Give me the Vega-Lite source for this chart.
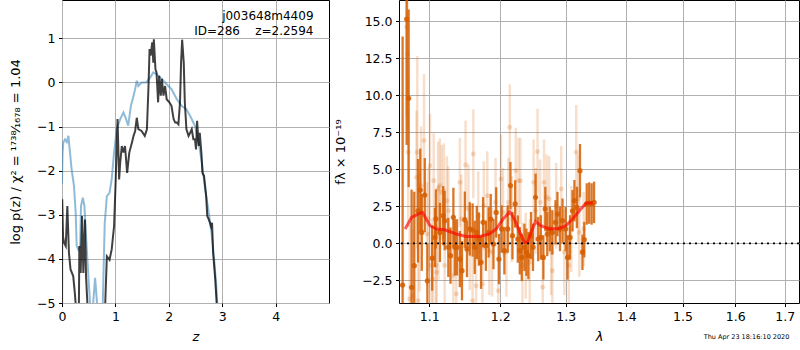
{
  "$schema": "https://vega.github.io/schema/vega-lite/v6.json",
  "padding": {"left": 9, "top": -2, "right": 0, "bottom": 0},
  "background": "white",
  "spacing": 70,
  "bounds": "flush",
  "title": {"text": "Thu Apr 23 18:16:10 2020", "orient": "bottom", "anchor": "end", "fontSize": 6.5, "fontWeight": "normal", "offset": -10, "dx": -11, "color": "black"},
  "datasets": {
    "pz_blue": [
      {"z":0,"v":-2.3},{"z":0.01,"v":-1.6},{"z":0.025,"v":-1.36},{"z":0.056,"v":-1.29},{"z":0.09,"v":-1.35},{"z":0.12,"v":-1.21},{"z":0.15,"v":-1.59},{"z":0.18,"v":-1.97},{"z":0.225,"v":-2.35},{"z":0.256,"v":-2.95},{"z":0.275,"v":-3.71},{"z":0.306,"v":-3.79},{"z":0.34,"v":-3.71},{"z":0.356,"v":-2.8},{"z":0.39,"v":-2.61},{"z":0.42,"v":-2.8},{"z":0.45,"v":-3.48},{"z":0.49,"v":-4.32},{"z":0.525,"v":-5.0},{"z":0.56,"v":-5.4},{"z":0.59,"v":-4.9},{"z":0.62,"v":-4.43},{"z":0.65,"v":-4.9},{"z":0.68,"v":-5.4},{"z":0.72,"v":-5.6},{"z":0.76,"v":-5.2},{"z":0.78,"v":-4.2},{"z":0.8,"v":-3.2},{"z":0.84,"v":-2.58},{"z":0.89,"v":-2.5},{"z":0.93,"v":-2.2},{"z":0.975,"v":-1.59},{"z":1.025,"v":-1.06},{"z":1.09,"v":-0.83},{"z":1.15,"v":-0.68},{"z":1.2,"v":-0.83},{"z":1.24,"v":-0.98},{"z":1.29,"v":-0.53},{"z":1.34,"v":-0.3},{"z":1.37,"v":-0.15},{"z":1.4,"v":0.04},{"z":1.43,"v":-0.08},{"z":1.49,"v":0.0},{"z":1.58,"v":0.0},{"z":1.65,"v":0.11},{"z":1.71,"v":0.23},{"z":1.77,"v":0.19},{"z":1.87,"v":0.08},{"z":1.96,"v":-0.04},{"z":2.05,"v":-0.15},{"z":2.15,"v":-0.38},{"z":2.24,"v":-0.53},{"z":2.33,"v":-0.61},{"z":2.4,"v":-0.76},{"z":2.49,"v":-0.98},{"z":2.55,"v":-1.29},{"z":2.62,"v":-1.82},{"z":2.68,"v":-2.42},{"z":2.74,"v":-2.88},{"z":2.8,"v":-3.41},{"z":2.85,"v":-4.02},{"z":2.89,"v":-4.62},{"z":2.91,"v":-5.08},{"z":2.95,"v":-6}
    ],
    "pz_dark": [
      {"z":0,"v":-6},{"z":0.004,"v":-2.65},{"z":0.02,"v":-3.5},{"z":0.04,"v":-3.64},{"z":0.07,"v":-3.71},{"z":0.1,"v":-2.8},{"z":0.13,"v":-3.86},{"z":0.16,"v":-4.24},{"z":0.21,"v":-4.39},{"z":0.24,"v":-4.77},{"z":0.26,"v":-5.08},{"z":0.28,"v":-6},{"z":0.31,"v":-6},{"z":0.325,"v":-3.71},{"z":0.35,"v":-4.32},{"z":0.375,"v":-3.03},{"z":0.4,"v":-4.32},{"z":0.43,"v":-3.11},{"z":0.45,"v":-4.39},{"z":0.475,"v":-5.0},{"z":0.5,"v":-6},{"z":0.78,"v":-6},{"z":0.81,"v":-5.0},{"z":0.84,"v":-3.94},{"z":0.89,"v":-4.02},{"z":0.93,"v":-3.79},{"z":0.975,"v":-3.26},{"z":1.006,"v":-2.2},{"z":1.04,"v":-0.83},{"z":1.07,"v":-2.2},{"z":1.09,"v":-1.82},{"z":1.12,"v":-1.44},{"z":1.15,"v":-1.59},{"z":1.18,"v":-1.44},{"z":1.22,"v":-2.05},{"z":1.26,"v":-1.59},{"z":1.31,"v":-1.36},{"z":1.34,"v":-1.21},{"z":1.37,"v":-1.1},{"z":1.4,"v":-0.8},{"z":1.43,"v":-1.06},{"z":1.49,"v":-1.1},{"z":1.55,"v":-1.21},{"z":1.59,"v":-1.06},{"z":1.62,"v":-0.08},{"z":1.64,"v":0.76},{"z":1.66,"v":0.61},{"z":1.69,"v":0.91},{"z":1.71,"v":0.45},{"z":1.72,"v":0.98},{"z":1.75,"v":0.3},{"z":1.77,"v":0.23},{"z":1.8,"v":-0.45},{"z":1.82,"v":0.15},{"z":1.85,"v":-0.3},{"z":1.87,"v":0.08},{"z":1.9,"v":-0.3},{"z":1.93,"v":-0.08},{"z":1.96,"v":-0.38},{"z":2.01,"v":-0.45},{"z":2.05,"v":-0.53},{"z":2.09,"v":-0.83},{"z":2.12,"v":-0.91},{"z":2.15,"v":-0.91},{"z":2.18,"v":-0.95},{"z":2.21,"v":-0.45},{"z":2.23,"v":0.45},{"z":2.25,"v":0.97},{"z":2.28,"v":0.45},{"z":2.3,"v":-0.45},{"z":2.33,"v":-1.06},{"z":2.37,"v":-1.21},{"z":2.4,"v":-1.14},{"z":2.43,"v":-1.06},{"z":2.46,"v":-1.29},{"z":2.49,"v":-1.29},{"z":2.51,"v":-1.52},{"z":2.53,"v":-0.87},{"z":2.56,"v":-1.44},{"z":2.58,"v":-1.14},{"z":2.61,"v":-1.59},{"z":2.63,"v":-2.05},{"z":2.66,"v":-2.12},{"z":2.7,"v":-2.58},{"z":2.72,"v":-3.03},{"z":2.75,"v":-3.11},{"z":2.77,"v":-3.18},{"z":2.79,"v":-3.26},{"z":2.81,"v":-3.18},{"z":2.83,"v":-3.86},{"z":2.87,"v":-4.47},{"z":2.9,"v":-5.08},{"z":2.93,"v":-6}
    ],
    "labels": [
      {"t":"j003648m4409","z":4.71,"v":1.5},
      {"t":"ID=286\u00a0\u00a0\u00a0\u00a0z=2.2594","z":4.71,"v":1.16}
    ],
    "dark": [
      {"lam":1.0647,"f":-2.82,"e":16.8},{"lam":1.07,"f":15.15,"e":8.5},{"lam":1.0726,"f":9.8,"e":6},{"lam":1.0765,"f":-2.97,"e":6.6},{"lam":1.08,"f":-1.51,"e":5},{"lam":1.085,"f":2.2,"e":3.5},{"lam":1.088,"f":3.6,"e":2.8},{"lam":1.09,"f":0.74,"e":2.6},{"lam":1.094,"f":3.26,"e":2.5},{"lam":1.0975,"f":-2.53,"e":2.5},{"lam":1.104,"f":-1.0,"e":2.2},{"lam":1.1077,"f":0.4,"e":2.0},{"lam":1.109,"f":1.65,"e":2.0},{"lam":1.1145,"f":0.74,"e":2.0},{"lam":1.119,"f":1.87,"e":2.0},{"lam":1.121,"f":1.53,"e":2.0},{"lam":1.126,"f":-0.27,"e":2.0},{"lam":1.129,"f":-0.83,"e":1.9},{"lam":1.133,"f":1.76,"e":2.0},{"lam":1.135,"f":-0.27,"e":1.9},{"lam":1.138,"f":-0.27,"e":1.9},{"lam":1.142,"f":-1.06,"e":1.9},{"lam":1.145,"f":-1.85,"e":2.0},{"lam":1.149,"f":1.6,"e":1.9},{"lam":1.152,"f":-0.38,"e":1.9},{"lam":1.156,"f":0.97,"e":1.8},{"lam":1.16,"f":0.9,"e":1.8},{"lam":1.163,"f":-0.27,"e":1.8},{"lam":1.166,"f":0.74,"e":1.8},{"lam":1.169,"f":0.29,"e":1.8},{"lam":1.172,"f":-1.28,"e":1.8},{"lam":1.175,"f":1.42,"e":1.7},{"lam":1.179,"f":-0.16,"e":1.7},{"lam":1.183,"f":0.74,"e":1.7},{"lam":1.186,"f":1.64,"e":1.7},{"lam":1.19,"f":-0.05,"e":1.7},{"lam":1.194,"f":2.09,"e":1.7},{"lam":1.198,"f":-1.06,"e":1.7},{"lam":1.202,"f":0.97,"e":1.6},{"lam":1.206,"f":-0.5,"e":1.6},{"lam":1.211,"f":0.97,"e":1.6},{"lam":1.215,"f":3.9,"e":1.6},{"lam":1.218,"f":0.52,"e":1.6},{"lam":1.222,"f":2.66,"e":1.6},{"lam":1.226,"f":0.29,"e":1.6},{"lam":1.229,"f":-0.5,"e":1.6},{"lam":1.232,"f":-0.95,"e":1.6},{"lam":1.236,"f":-0.27,"e":1.6},{"lam":1.239,"f":-0.6,"e":1.6},{"lam":1.242,"f":-0.83,"e":1.6},{"lam":1.246,"f":0.52,"e":1.6},{"lam":1.249,"f":-0.27,"e":1.6},{"lam":1.253,"f":3.11,"e":1.6},{"lam":1.257,"f":0.29,"e":1.5},{"lam":1.261,"f":0.4,"e":1.5},{"lam":1.265,"f":-0.95,"e":1.5},{"lam":1.268,"f":2.32,"e":1.5},{"lam":1.271,"f":0.63,"e":1.5},{"lam":1.275,"f":0.97,"e":1.5},{"lam":1.279,"f":0.74,"e":1.5},{"lam":1.284,"f":1.42,"e":1.5},{"lam":1.287,"f":1.98,"e":1.5},{"lam":1.291,"f":0.97,"e":1.5},{"lam":1.295,"f":1.53,"e":1.5},{"lam":1.3,"f":0.97,"e":1.5},{"lam":1.303,"f":-0.95,"e":1.5},{"lam":1.307,"f":0.4,"e":1.5},{"lam":1.311,"f":2.2,"e":1.4},{"lam":1.314,"f":2.88,"e":1.4},{"lam":1.318,"f":2.43,"e":1.4},{"lam":1.323,"f":4.91,"e":1.8},{"lam":1.327,"f":-0.6,"e":1.2},{"lam":1.33,"f":0.25,"e":1.2},{"lam":1.334,"f":2.66,"e":1.4},{"lam":1.338,"f":2.72,"e":1.4},{"lam":1.342,"f":2.66,"e":1.4},{"lam":1.346,"f":2.77,"e":1.4}
    ],
    "light": [
      {"lam":1.07,"f":14.6,"e":6},{"lam":1.071,"f":12.8,"e":5},{"lam":1.072,"f":6.15,"e":5},{"lam":1.074,"f":-3.76,"e":5},{"lam":1.078,"f":-3.54,"e":4.5},{"lam":1.083,"f":4.46,"e":4.5},{"lam":1.084,"f":6.15,"e":6.5},{"lam":1.085,"f":-3.87,"e":4},{"lam":1.087,"f":0.74,"e":4},{"lam":1.089,"f":3.9,"e":4},{"lam":1.093,"f":6.94,"e":4.5},{"lam":1.097,"f":0.63,"e":3.5},{"lam":1.099,"f":1.64,"e":3.5},{"lam":1.101,"f":5.25,"e":3.5},{"lam":1.103,"f":-1.5,"e":3.2},{"lam":1.105,"f":-2.4,"e":3.2},{"lam":1.106,"f":4.23,"e":3.2},{"lam":1.109,"f":-1.5,"e":3.2},{"lam":1.11,"f":-1.96,"e":3.2},{"lam":1.112,"f":3.67,"e":3.2},{"lam":1.1125,"f":0.74,"e":3.2},{"lam":1.1145,"f":3.9,"e":3.2},{"lam":1.117,"f":3.45,"e":3.2},{"lam":1.12,"f":3.56,"e":3.2},{"lam":1.121,"f":-1.5,"e":3.0},{"lam":1.124,"f":2.88,"e":3.0},{"lam":1.126,"f":2.2,"e":3.0},{"lam":1.133,"f":-2.18,"e":3.0},{"lam":1.137,"f":-3.42,"e":3.0},{"lam":1.142,"f":4.12,"e":3.0},{"lam":1.144,"f":1.64,"e":3.0},{"lam":1.15,"f":5.29,"e":3.0},{"lam":1.154,"f":2.32,"e":3.0},{"lam":1.156,"f":-0.16,"e":3.0},{"lam":1.16,"f":-3.87,"e":3.0},{"lam":1.161,"f":6.04,"e":3.0},{"lam":1.165,"f":-2.86,"e":3.0},{"lam":1.168,"f":1.87,"e":3.0},{"lam":1.174,"f":-2.75,"e":3.0},{"lam":1.176,"f":2.54,"e":3.0},{"lam":1.181,"f":3.22,"e":3.0},{"lam":1.184,"f":-0.5,"e":3.0},{"lam":1.188,"f":-0.6,"e":3.0},{"lam":1.193,"f":2.77,"e":3.0},{"lam":1.197,"f":-3.2,"e":3.0},{"lam":1.201,"f":4.35,"e":3.0},{"lam":1.204,"f":2.09,"e":3.0},{"lam":1.209,"f":-0.6,"e":3.0},{"lam":1.212,"f":2.77,"e":3.0},{"lam":1.214,"f":7.84,"e":2.9},{"lam":1.217,"f":1.64,"e":2.9},{"lam":1.223,"f":4.91,"e":2.9},{"lam":1.227,"f":4.23,"e":2.9},{"lam":1.23,"f":4.23,"e":2.9},{"lam":1.233,"f":-1.5,"e":2.9},{"lam":1.238,"f":-0.83,"e":2.9},{"lam":1.244,"f":-1.28,"e":2.9},{"lam":1.25,"f":4.12,"e":2.9},{"lam":1.253,"f":2.2,"e":2.9},{"lam":1.256,"f":6.2,"e":2.9},{"lam":1.26,"f":2.77,"e":2.9},{"lam":1.264,"f":-2.97,"e":2.9},{"lam":1.266,"f":4.12,"e":2.9},{"lam":1.27,"f":3.11,"e":2.9},{"lam":1.274,"f":3.0,"e":2.9},{"lam":1.277,"f":-0.6,"e":2.9},{"lam":1.279,"f":-1.85,"e":2.9},{"lam":1.285,"f":2.54,"e":2.9},{"lam":1.293,"f":3.67,"e":2.9},{"lam":1.298,"f":-0.6,"e":2.9},{"lam":1.305,"f":-1.5,"e":2.9},{"lam":1.309,"f":0.97,"e":2.9},{"lam":1.317,"f":6.15,"e":3.2},{"lam":1.32,"f":3.0,"e":3.0},{"lam":1.322,"f":0.74,"e":3.0},{"lam":1.329,"f":0.97,"e":2.5}
    ],
    "model": [
      {"lam":1.068,"f":0.97},{"lam":1.0765,"f":1.76},{"lam":1.085,"f":1.98},{"lam":1.091,"f":2.09},{"lam":1.101,"f":1.19},{"lam":1.11,"f":0.97},{"lam":1.121,"f":0.92},{"lam":1.137,"f":0.63},{"lam":1.151,"f":0.47},{"lam":1.17,"f":0.47},{"lam":1.184,"f":0.63},{"lam":1.194,"f":0.97},{"lam":1.204,"f":1.64},{"lam":1.214,"f":2.14},{"lam":1.221,"f":1.64},{"lam":1.229,"f":0.74},{"lam":1.236,"f":0.07},{"lam":1.241,"f":0.07},{"lam":1.246,"f":0.74},{"lam":1.253,"f":1.46},{"lam":1.261,"f":1.19},{"lam":1.274,"f":0.97},{"lam":1.289,"f":1.01},{"lam":1.3,"f":1.19},{"lam":1.311,"f":1.64},{"lam":1.322,"f":2.2},{"lam":1.333,"f":2.72},{"lam":1.344,"f":2.72}
    ]
  },
  "hconcat": [
    {
      "width": 267,
      "height": 303,
      "layer": [
        {
          "data": {"name": "pz_blue"},
          "mark": {"type": "line", "color": "#1f77b4", "opacity": 0.5, "strokeWidth": 2, "clip": true},
          "encoding": {
            "x": {"field": "z", "type": "quantitative", "title": "z", "scale": {"domain": [0, 5], "nice": false, "zero": false}, "axis": {"values": [0, 1, 2, 3, 4], "format": "d", "titleFontStyle": "italic", "titlePadding": 8}},
            "y": {"field": "v", "type": "quantitative", "title": "log p(z) / χ² = ¹⁷³⁸⁄₁₆₇₈ = 1.04", "scale": {"domain": [-5, 1.87], "nice": false, "zero": false}, "axis": {"values": [-5, -4, -3, -2, -1, 0, 1], "format": "d", "titlePadding": 14}}
          }
        },
        {
          "data": {"name": "pz_dark"},
          "mark": {"type": "line", "color": "black", "opacity": 0.75, "strokeWidth": 2, "clip": true},
          "encoding": {
            "x": {"field": "z", "type": "quantitative", "title": "z"},
            "y": {"field": "v", "type": "quantitative", "title": "log p(z) / χ² = ¹⁷³⁸⁄₁₆₇₈ = 1.04"}
          }
        },
        {
          "data": {"name": "labels"},
          "mark": {"type": "text", "align": "right", "baseline": "middle", "fontSize": 12, "color": "black"},
          "encoding": {
            "x": {"field": "z", "type": "quantitative", "title": "z"},
            "y": {"field": "v", "type": "quantitative", "title": "log p(z) / χ² = ¹⁷³⁸⁄₁₆₇₈ = 1.04"},
            "text": {"field": "t"}
          }
        }
      ]
    },
    {
      "width": 400,
      "height": 303,
      "layer": [
        {
          "data": {"name": "light"},
          "mark": {"type": "errorbar", "ticks": false, "thickness": 2.5, "color": "#d55e00", "opacity": 0.2},
          "encoding": {
            "x": {"field": "lam", "type": "quantitative", "title": "λ", "scale": {"type": "log", "domain": [1.06, 1.73], "nice": false, "zero": false}, "axis": {"values": [1.1, 1.2, 1.3, 1.4, 1.5, 1.6, 1.7], "format": ".1f", "titleFontStyle": "italic", "titlePadding": 8}},
            "y": {"field": "f", "type": "quantitative", "title": "fλ × 10⁻¹⁹", "scale": {"domain": [-4.03, 16.44], "nice": false, "zero": false, "clamp": true}, "axis": {"values": [-2.5, 0, 2.5, 5, 7.5, 10, 12.5, 15], "format": ".1f", "titlePadding": 14}},
            "yError": {"field": "e"}
          }
        },
        {
          "data": {"name": "light"},
          "mark": {"type": "circle", "color": "#d55e00", "opacity": 0.22, "size": 24},
          "encoding": {
            "x": {"field": "lam", "type": "quantitative", "title": "λ"},
            "y": {"field": "f", "type": "quantitative", "title": "fλ × 10⁻¹⁹"}
          }
        },
        {
          "data": {"name": "dark"},
          "mark": {"type": "errorbar", "ticks": false, "thickness": 2.3, "color": "#d55e00", "opacity": 0.85},
          "encoding": {
            "x": {"field": "lam", "type": "quantitative", "title": "λ"},
            "y": {"field": "f", "type": "quantitative", "title": "fλ × 10⁻¹⁹"},
            "yError": {"field": "e"}
          }
        },
        {
          "data": {"name": "dark"},
          "mark": {"type": "circle", "color": "#d55e00", "opacity": 0.85, "size": 28},
          "encoding": {
            "x": {"field": "lam", "type": "quantitative", "title": "λ"},
            "y": {"field": "f", "type": "quantitative", "title": "fλ × 10⁻¹⁹"}
          }
        },
        {
          "data": {"name": "model"},
          "mark": {"type": "line", "color": "#ff0000", "opacity": 0.65, "strokeWidth": 3},
          "encoding": {
            "x": {"field": "lam", "type": "quantitative", "title": "λ"},
            "y": {"field": "f", "type": "quantitative", "title": "fλ × 10⁻¹⁹"}
          }
        },
        {
          "data": {"values": [{}]},
          "mark": {"type": "rule", "color": "black", "strokeDash": [2, 4], "strokeWidth": 1.8},
          "encoding": {"y": {"datum": 0, "title": "fλ × 10⁻¹⁹"}}
        }
      ]
    }
  ],
  "config": {
    "font": "DejaVu Sans",
    "view": {"stroke": "black", "strokeWidth": 1},
    "axis": {
      "domain": false,
      "grid": true,
      "gridColor": "#b0b0b0",
      "gridWidth": 1,
      "tickColor": "black",
      "tickSize": 3.5,
      "tickWidth": 1,
      "labelPadding": 3.5,
      "labelFontSize": 12.5,
      "labelColor": "black",
      "labelFlush": false,
      "labelOverlap": false,
      "titleFontSize": 13,
      "titleFontWeight": "normal",
      "titleColor": "black"
    }
  }
}
